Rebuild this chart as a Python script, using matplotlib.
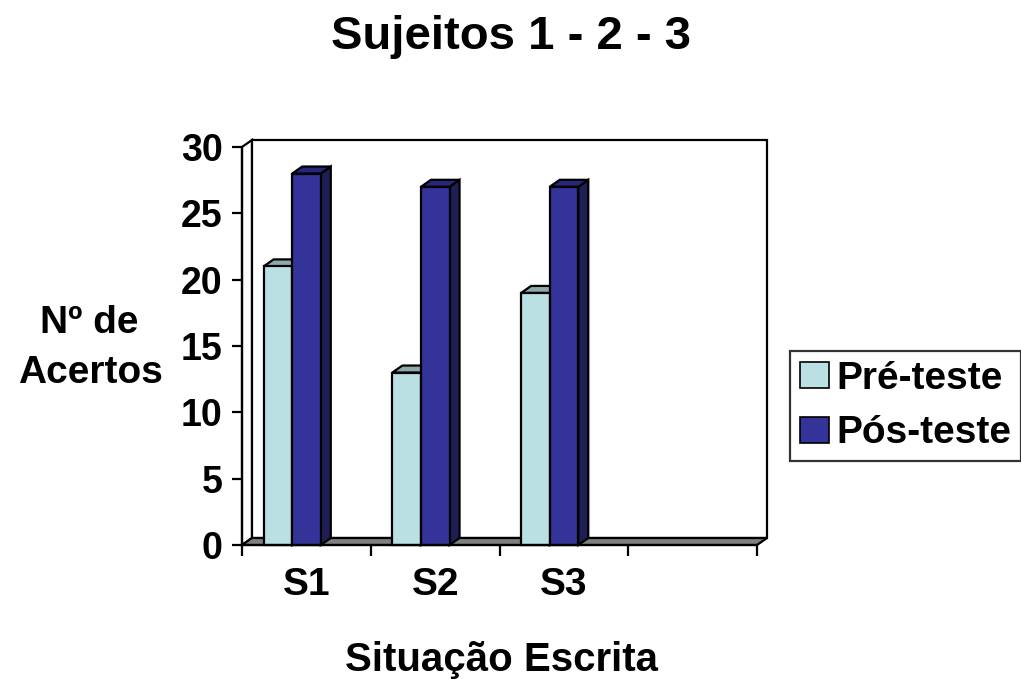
import matplotlib
matplotlib.use("Agg")
import matplotlib.pyplot as plt
from matplotlib.patches import Polygon, Rectangle

plt.rcParams['font.family'] = ['Liberation Sans', 'DejaVu Sans']
plt.rcParams['font.weight'] = 'bold'

categories = ['S1', 'S2', 'S3', '']
pre_teste = [21, 13, 19, None]
pos_teste = [28, 27, 27, None]
series_names = ['Pré-teste', 'Pós-teste']
y_ticks = [0, 5, 10, 15, 20, 25, 30]

front_colors = ['#BBE0E3', '#333399']
top_colors = ['#8DA9AB', '#26267A']
side_colors = ['#8DA9AB', '#1F1F55']

W, H = 1021, 679
fig = plt.figure(figsize=(W / 100, H / 100), dpi=100)
x0, x1, y0, y1 = 242, 757, 545, 147
ax = fig.add_axes([x0 / W, (H - y0) / H, (x1 - x0) / W, (y0 - y1) / H])
n = len(categories)
ax.set_xlim(0, n)
ax.set_ylim(0, 30)

# depth offset of the 3-D box, in data units
px_x = (x1 - x0) / n
px_y = (y0 - y1) / 30
dx = 10 / px_x
dy = 7 / px_y

lw = 1.6
# left wall, back wall and floor
ax.add_patch(Polygon([(0, 0), (dx, dy), (dx, 30 + dy), (0, 30)], closed=True,
                     facecolor='white', edgecolor='black', lw=lw, clip_on=False, zorder=1))
ax.add_patch(Rectangle((dx, dy), n, 30, facecolor='white', edgecolor='black',
                       lw=lw, clip_on=False, zorder=1))
ax.add_patch(Polygon([(0, 0), (n, 0), (n + dx, dy), (dx, dy)], closed=True,
                     facecolor='#808080', edgecolor='black', lw=lw, clip_on=False, zorder=2))

bar_w = 0.222
offset = 0.168
for i in range(n):
    for s, vals in enumerate([pre_teste, pos_teste]):
        v = vals[i]
        if v is None:
            continue
        left = i + offset + s * bar_w
        right = left + bar_w
        z = 3 + s
        ax.add_patch(Polygon([(right, 0), (right + dx, dy), (right + dx, v + dy), (right, v)],
                             closed=True, facecolor=side_colors[s], edgecolor='black',
                             lw=lw, clip_on=False, zorder=z))
        ax.add_patch(Polygon([(left, v), (left + dx, v + dy), (right + dx, v + dy), (right, v)],
                             closed=True, facecolor=top_colors[s], edgecolor='black',
                             lw=lw, clip_on=False, zorder=z))
        ax.bar(left, v, width=bar_w, align='edge', color=front_colors[s],
               edgecolor='black', lw=lw, clip_on=False, zorder=z)

for side in ['top', 'right', 'bottom']:
    ax.spines[side].set_visible(False)
ax.spines['left'].set_linewidth(lw)
ax.spines['left'].set_zorder(10)
ax.set_facecolor('none')

ax.set_yticks(y_ticks)
ax.set_yticklabels([str(t) for t in y_ticks], fontsize=27, fontweight='bold')
ax.tick_params(axis='y', direction='out', length=7, width=1.6, pad=7)

ax.set_xticks(range(n + 1))
ax.set_xticklabels([''] * (n + 1))
ax.tick_params(axis='x', which='major', direction='out', length=8, width=1.6)
ax.set_xticks([i + 0.5 for i in range(n)], minor=True)
ax.set_xticklabels(categories, minor=True, fontsize=28, fontweight='bold')
ax.tick_params(axis='x', which='minor', length=0, pad=16)
ax.axhline(0, color='black', lw=lw, zorder=9, clip_on=False)

fig.text(511 / W, 1 - 49 / H, 'Sujeitos 1 - 2 - 3', ha='center', va='baseline',
         fontsize=34, fontweight='bold')
fig.text(89 / W, 1 - 333 / H, 'Nº de', ha='center', va='baseline',
         fontsize=28, fontweight='bold')
fig.text(90 / W, 1 - 383 / H, 'Acertos', ha='center', va='baseline',
         fontsize=28, fontweight='bold')
fig.text(501 / W, 1 - 671 / H, 'Situação Escrita', ha='center', va='baseline',
         fontsize=29, fontweight='bold')

handles = [Rectangle((0, 0), 1, 1, facecolor=c, edgecolor='black', lw=1.2) for c in front_colors]
leg = fig.legend(handles, series_names, loc='center left',
                 bbox_to_anchor=(790 / W, 1 - 406 / H), frameon=True, fancybox=False,
                 prop={'size': 28, 'weight': 'bold'}, handlelength=0.75, handleheight=0.65,
                 handletextpad=0.2, borderpad=0.25, labelspacing=0.48, borderaxespad=0)
leg.get_frame().set_edgecolor('black')
leg.get_frame().set_linewidth(1.6)

fig.savefig('out.png', dpi=100)
